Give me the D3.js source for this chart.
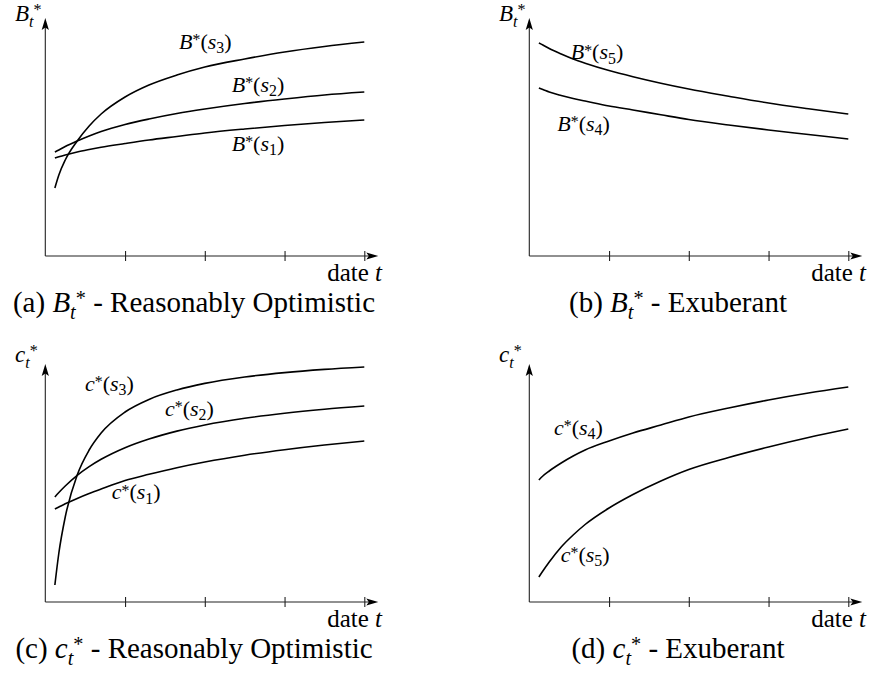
<!DOCTYPE html>
<html><head><meta charset="utf-8">
<script src="https://cdn.jsdelivr.net/npm/d3@7"></script>
<style>body{margin:0;background:#fff}svg{display:block}</style>
</head><body>
<svg id="chart" width="869" height="679"></svg>
<script>
// ---------- data ----------
const tGrid  = [0.12, 0.17, 0.25, 0.4, 0.55, 0.7, 1, 1.3, 1.65, 2, 2.5, 3, 3.5, 4];
const xTicks = [1, 2, 3, 4];
// (a) B* reasonably optimistic
const B_opt_s1 = [98, 99.2, 101, 104, 106.5, 108.8, 112.5, 116, 119.5, 123, 127, 130.5, 133.5, 136];
const B_opt_s2 = [104, 106, 109.5, 115, 120, 124.5, 131.5, 137, 142.5, 147, 152.5, 157, 161, 164];
const B_opt_s3 = [68, 81, 96, 115, 130, 142, 159, 171, 181, 189, 197, 204, 209.5, 214];
// (b) B* exuberant
const B_exu_s4 = [168, 166.5, 164, 160.5, 157.5, 155, 150, 146, 141.2, 136.5, 131, 126, 121.5, 117];
const B_exu_s5 = [213, 211, 207.5, 202, 197, 192.8, 185.5, 179.3, 172.8, 167, 159.8, 153, 147.3, 142];
// (c) c* reasonably optimistic
const c_opt_s1 = [93, 95, 98.2, 103.6, 108.5, 113, 121.5, 127.7, 134.3, 140, 146.8, 152.3, 157, 161];
const c_opt_s2 = [105, 109.5, 116, 126.7, 135.4, 142.7, 154.3, 163, 170.9, 177, 183.7, 188.8, 192.8, 196];
const c_opt_s3 = [17, 49, 85, 127, 152, 169, 190, 202.6, 212, 218.6, 225, 229.4, 232.6, 235];
// (d) c* exuberant
const c_exu_s4 = [122, 126, 131, 139, 146, 152, 161, 169, 177, 185, 194, 202, 209, 215];
const c_exu_s5 = [25, 31, 40, 55, 67, 77.5, 94, 107.5, 121, 132.5, 144.5, 155, 164.5, 173];

const captions = ["Reasonably Optimistic", "Exuberant", "Reasonably Optimistic", "Exuberant"];

// ---------- layout ----------
const FONT = "'Liberation Serif', 'Times New Roman', serif";
const svg = d3.select('#chart');

const panels = [
  {x0: 0,   y0: 0,   v: 'B', tag: '(a)', cap: captions[0], axY: 21,
   series: [{d: B_opt_s3, s: '3', lx: 179, ly: 49}, {d: B_opt_s2, s: '2', lx: 231.7, ly: 91.5}, {d: B_opt_s1, s: '1', lx: 231.7, ly: 151}]},
  {x0: 484, y0: 0,   v: 'B', tag: '(b)', cap: captions[1], axY: 21,
   series: [{d: B_exu_s5, s: '5', lx: 86.7, ly: 59.3}, {d: B_exu_s4, s: '4', lx: 73.3, ly: 130.7}]},
  {x0: 0,   y0: 346, v: 'c', tag: '(c)', cap: captions[2], axY: 16,
   series: [{d: c_opt_s3, s: '3', lx: 85, ly: 45}, {d: c_opt_s2, s: '2', lx: 165, ly: 70}, {d: c_opt_s1, s: '1', lx: 111.7, ly: 153.3}]},
  {x0: 484, y0: 346, v: 'c', tag: '(d)', cap: captions[3], axY: 16,
   series: [{d: c_exu_s4, s: '4', lx: 70, ly: 89}, {d: c_exu_s5, s: '5', lx: 76.7, ly: 215.7}]}
];

const x = d3.scaleLinear().domain([0, 4]).range([45.3, 364.3]);
const y = d3.scaleLinear().domain([0, 238]).range([256, 18]);

// rich text helper: parts [{s, it, sc, off, dx}]
function rich(sel, px, py, size, parts, anchor) {
  const t = sel.append('text').attr('x', px).attr('y', py)
    .attr('font-family', FONT).attr('font-size', size)
    .attr('text-anchor', anchor || 'start').attr('fill', '#000');
  let cur = 0;
  parts.forEach(p => {
    const ts = t.append('tspan').text(p.s)
      .attr('font-size', p.sc ? size * p.sc : size)
      .attr('font-style', p.it ? 'italic' : 'normal');
    const target = (p.off || 0) * size;
    if (target - cur !== 0) ts.attr('dy', target - cur);
    cur = target;
    if (p.dx) ts.attr('dx', p.dx * size);
  });
  return t;
}

const line = d3.line().x((d, i) => x(tGrid[i])).y(d => y(d)).curve(d3.curveMonotoneX);

panels.forEach(P => {
  const g = svg.append('g').attr('transform', `translate(${P.x0},${P.y0})`);
  const x0 = x.range()[0], yb = y(0);
  const xTip = x(4) + 14, yTip = y.range()[1];

  // axes lines
  g.append('line').attr('x1', x0).attr('x2', xTip - 8).attr('y1', yb).attr('y2', yb)
    .attr('stroke', '#222').attr('stroke-width', 1.1);
  g.append('line').attr('x1', x0).attr('x2', x0).attr('y1', yb).attr('y2', yTip + 8)
    .attr('stroke', '#222').attr('stroke-width', 1.1);
  // arrowheads
  g.append('path').attr('d', `M${xTip},${yb} L${xTip - 12},${yb - 3.6} L${xTip - 9.5},${yb} L${xTip - 12},${yb + 3.6} Z`).attr('fill', '#000');
  g.append('path').attr('d', `M${x0},${yTip} L${x0 - 3.6},${yTip + 12} L${x0},${yTip + 9.5} L${x0 + 3.6},${yTip + 12} Z`).attr('fill', '#000');

  // ticks via d3 axis
  const ax = g.append('g').attr('transform', `translate(0,${yb})`)
    .call(d3.axisBottom(x).tickValues(xTicks).tickSize(5).tickFormat(''));
  ax.select('.domain').remove();
  ax.selectAll('.tick line').attr('y1', -5).attr('y2', 5).attr('stroke', '#222').attr('stroke-width', 1.1);

  // curves
  P.series.forEach(S => {
    g.append('path').datum(S.d).attr('d', line)
      .attr('fill', 'none').attr('stroke', '#000').attr('stroke-width', 1.6);
    rich(g, S.lx, S.ly, 22, [
      {s: P.v, it: 1}, {s: '*', sc: 0.72, off: -0.17},
      {s: '('}, {s: 's', it: 1}, {s: S.s, sc: 0.72, off: 0.2}, {s: ')'}
    ]);
  });

  // y-axis label
  rich(g, 15, P.axY, 23, [
    {s: P.v, it: 1}, {s: 't', it: 1, sc: 0.7, off: 0.25}, {s: '*', sc: 0.7, off: -0.25}
  ]);
  // x-axis label
  rich(g, 382, 281, 25, [{s: 'date '}, {s: 't', it: 1}], 'end');
  // caption
  rich(g, 194, 312, 29, [
    {s: P.tag + ' '}, {s: P.v, it: 1}, {s: 't', it: 1, sc: 0.7, off: 0.25},
    {s: '*', sc: 0.7, off: -0.25}, {s: ' - ' + P.cap}
  ], 'middle');
});
</script>
</body></html>
